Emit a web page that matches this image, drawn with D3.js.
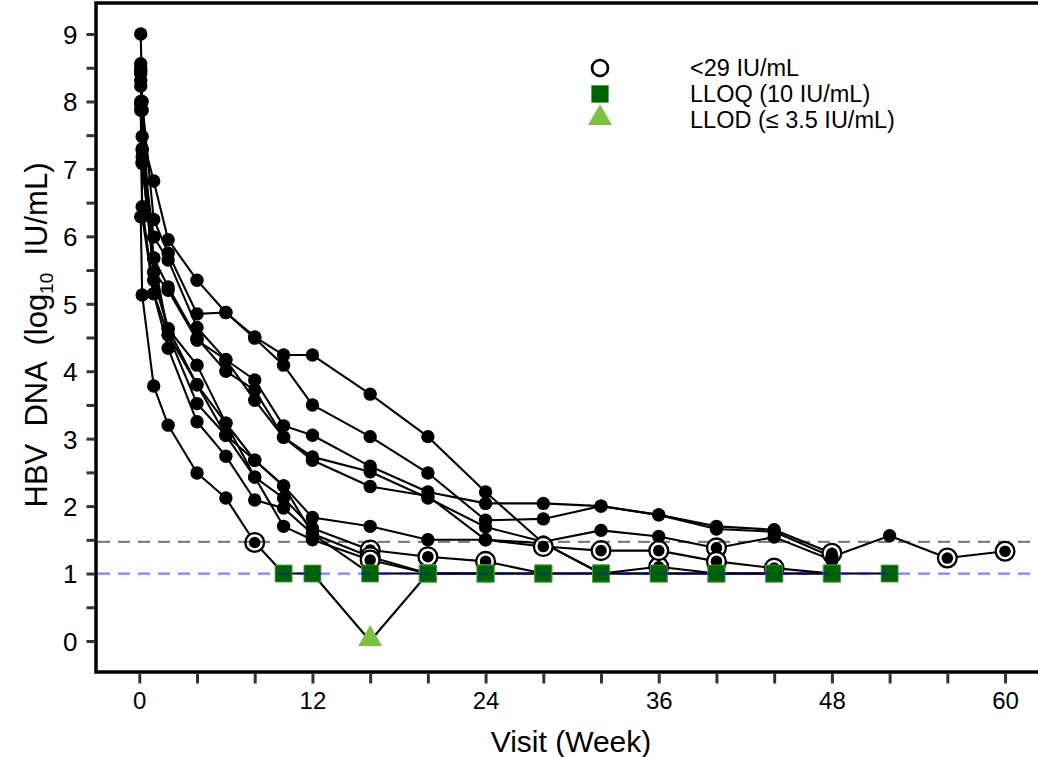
<!DOCTYPE html>
<html>
<head>
<meta charset="utf-8">
<script src="https://cdn.jsdelivr.net/npm/d3@7"></script>
<style>
  body { margin: 0; background: #fff; }
  svg { display: block; }
  text { font-family: "Liberation Sans", Arial, sans-serif; fill: #000; }
</style>
</head>
<body>
<svg id="chart" width="1038" height="757"></svg>
<script>
// Visit schedule (weeks) shared by every participant
const visitWeeks = [0.1, 0.2, 1, 2, 4, 6, 8, 10, 12, 16, 20, 24, 28, 32, 36, 40, 44, 48, 52, 56, 60];

// HBV DNA (log10 IU/mL) per participant, aligned with visitWeeks (null = no visit)
// Flags: D = quantified, C = <29 IU/mL, Q = LLOQ (10 IU/mL), T = LLOD (<=3.5 IU/mL), . = none
const pt01 = [8.56, 7.48, 6.82, 5.95, 5.35, 4.87, 4.51, 4.24, 4.24, 3.66, 3.03, 2.21, 1.45, 1, 1, 1, 1, 1, null, null, null];
const pt01Flag = "DDDDDDDDDDDDDQQQQQ...";
const pt02 = [9.0, 8.0, 6.25, 5.75, 4.85, 4.87, 4.49, 4.09, 3.5, 3.03, 2.49, 1.79, 1.81, 2.0, 1.87, 1.70, 1.65, 1.30, null, null, null];
const pt02Flag = "DDDDDDDDDDDDDDDDDC...";
const pt03 = [8.49, 7.28, 5.99, 5.65, 4.65, 4.17, 3.87, 3.19, 3.05, 2.59, 2.21, 2.04, 2.04, 2.0, 1.87, 1.66, 1.62, 1.25, 1.56, 1.23, 1.33];
const pt03Flag = "DDDDDDDDDDDDDDDDDDDCC";
const pt04 = [8.41, 7.18, 5.68, 5.25, 4.49, 4.0, 3.72, 3.02, 2.73, 2.51, 2.12, 1.69, 1.47, 1.64, 1.55, 1.38, 1.54, 1.2, null, null, null];
const pt04Flag = "DDDDDDDDDDDDDDDCDD...";
const pt05 = [8.31, 7.08, 5.47, 5.2, 4.46, 4.17, 3.57, 3.02, 2.68, 2.29, 2.15, 1.50, 1.45, 1, 1.1, 1, 1, null, null, null, null];
const pt05Flag = "DDDDDDDDDDDDDQCQQ....";
const pt06 = [8.23, 7.87, 5.35, 4.63, 3.80, 3.23, 2.68, 2.30, 1.83, 1.70, 1.50, 1.50, 1.40, 1.34, 1.34, 1.18, 1.08, 1, null, null, null];
const pt06Flag = "DDDDDDDDDDDDCCCCCQ...";
const pt07 = [8.0, 6.44, 5.15, 4.54, 3.52, 3.05, 2.43, 2.12, 1.67, 1.35, 1.25, 1.18, 1, 1, null, null, null, null, null, null, null];
const pt07Flag = "DDDDDDDDDCCCQQ.......";
const pt08 = [7.87, 6.29, 5.15, 4.34, 3.25, 2.74, 2.09, 1.97, 1.59, 1.25, 1, 1, 1, null, null, null, null, null, null, null, null];
const pt08Flag = "DDDDDDDDDCQQQ........";
const pt09 = [7.95, 7.1, 5.47, 4.63, 4.09, 3.23, 2.43, 1.70, 1.50, 1.2, 1, 1, null, null, null, null, null, null, null, null, null];
const pt09Flag = "DDDDDDDDDCQQ.........";
const pt10 = [8.45, 7.3, 5.68, 4.54, 3.8, 3.05, 2.68, 2.30, 1.59, 1, 1, null, null, null, null, null, null, null, null, null, null];
const pt10Flag = "DDDDDDDDDQQ..........";
const pt11 = [6.29, 5.13, 3.78, 3.2, 2.49, 2.12, 1.46, 1, 1, 0, 1, 1, 1, 1, 1, 1, 1, 1, 1, null, null];
const pt11Flag = "DDDDDDCQQTQQQQQQQQQ..";

// Reference thresholds (log10 IU/mL): 29 IU/mL and 10 IU/mL
const refValues = [1.47, 1.0];
const refColors = ["#000000", "#0000ff"];

// Axis ticks
const xTicks = d3.range(0, 61, 4);
const xLabels = [0, 12, 24, 36, 48, 60];
const yTicks = d3.range(0, 9.01, 0.5);
const yLabels = [0, 1, 2, 3, 4, 5, 6, 7, 8, 9];

// Legend entries
const legendKeys = ["C", "Q", "T"];
const legendText = ["<29 IU/mL", "LLOQ (10 IU/mL)", "LLOD (\u2264 3.5 IU/mL)"];

const subjects = [
  [pt01, pt01Flag], [pt02, pt02Flag], [pt03, pt03Flag], [pt04, pt04Flag],
  [pt05, pt05Flag], [pt06, pt06Flag], [pt07, pt07Flag], [pt08, pt08Flag],
  [pt09, pt09Flag], [pt10, pt10Flag], [pt11, pt11Flag]
].map(([vals, flags]) => visitWeeks
  .map((w, i) => ({ week: w, value: vals[i], flag: flags[i] }))
  .filter(d => d.value !== null && d.flag !== "."));

const svg = d3.select("#chart");
const plotLeft = 96, plotTop = 3, plotBottom = 672, plotRight = 1044;

const x = d3.scaleLinear().domain([-3, 62.7]).range([plotLeft, plotRight]);
const y = d3.scaleLinear().domain([-0.46, 9.46]).range([plotBottom, plotTop]);

// Frame
svg.append("path")
  .attr("d", `M${plotRight},${plotTop}H${plotLeft}V${plotBottom}H${plotRight}`)
  .attr("fill", "none").attr("stroke", "#000").attr("stroke-width", 3.5);

// X axis
const xAxis = d3.axisBottom(x).tickValues(xTicks).tickSize(10)
  .tickFormat(d => xLabels.includes(d) ? d : "");
const gx = svg.append("g").attr("transform", `translate(0,${plotBottom + 1.5})`).call(xAxis);
gx.select(".domain").remove();
gx.selectAll(".tick line").attr("stroke", "#333").attr("stroke-width", 3);
gx.selectAll(".tick text").attr("font-size", 24).attr("y", 18).attr("dy", "0.71em")
  .attr("font-family", "Liberation Sans, Arial, sans-serif").attr("fill", "#000");

// Y axis
const yAxis = d3.axisLeft(y).tickValues(yTicks).tickSize(8)
  .tickFormat(d => yLabels.includes(d) ? d : "");
const gy = svg.append("g").attr("transform", `translate(${plotLeft - 1.5},0)`).call(yAxis);
gy.select(".domain").remove();
gy.selectAll(".tick line").attr("stroke", "#333").attr("stroke-width", 3);
gy.selectAll(".tick text").attr("font-size", 26).attr("x", -17).attr("dy", "0.36em")
  .attr("font-family", "Liberation Sans, Arial, sans-serif").attr("fill", "#000");

// Axis titles
svg.append("text")
  .attr("x", 571).attr("y", 752).attr("text-anchor", "middle")
  .attr("font-size", 30).text("Visit (Week)");

const yTitle = svg.append("text")
  .attr("transform", "translate(47,335) rotate(-90)")
  .attr("text-anchor", "middle").attr("font-size", 31)
  .attr("xml:space", "preserve");
yTitle.append("tspan").text("HBV  DNA  (log");
yTitle.append("tspan").attr("font-size", 19).attr("dy", 6).text("10");
yTitle.append("tspan").attr("dy", -6).text("  IU/mL)");

// Participant trajectories
const plot = svg.append("g");
const line = d3.line().x(d => x(d.week)).y(d => y(d.value));
plot.selectAll("path.traj").data(subjects).join("path")
  .attr("class", "traj")
  .attr("d", line).attr("fill", "none")
  .attr("stroke", "#000").attr("stroke-width", 2.1).attr("stroke-linejoin", "round");

const sqSym = d3.symbol().type(d3.symbolSquare).size(290);
const triSym = d3.symbol().type(d3.symbolTriangle).size(250);

function drawMarker(g, flag, cx, cy, isLegend) {
  if (flag === "D") {
    g.append("circle").attr("cx", cx).attr("cy", cy).attr("r", 6.7).attr("fill", "#000");
  } else if (flag === "C") {
    g.append("circle").attr("cx", cx).attr("cy", cy).attr("r", isLegend ? 8 : 9.4)
      .attr("fill", "#fff").attr("stroke", "#000").attr("stroke-width", isLegend ? 2.6 : 2.3);
    if (!isLegend) g.append("circle").attr("cx", cx).attr("cy", cy).attr("r", 5.8).attr("fill", "#000");
  } else if (flag === "Q") {
    g.append("path").attr("d", sqSym()).attr("transform", `translate(${cx},${cy})`)
      .attr("fill", "#006400").attr("stroke", "#5e9c5e").attr("stroke-width", 0.8);
  } else if (flag === "T") {
    g.append("path").attr("d", triSym()).attr("transform", `translate(${cx},${cy - 2})`)
      .attr("fill", "#7cc144");
  }
}

const marks = svg.append("g");
subjects.forEach(s => s.forEach(d => drawMarker(marks, d.flag, x(d.week), y(d.value), false)));

// Threshold reference lines
refValues.forEach((v, i) => {
  svg.append("line")
    .attr("x1", plotLeft + 2).attr("x2", plotRight).attr("y1", y(v)).attr("y2", y(v))
    .attr("stroke", refColors[i]).attr("stroke-opacity", 0.5)
    .attr("stroke-width", 2.2).attr("stroke-dasharray", "12,8");
});

// Legend
const legendG = svg.append("g");
legendKeys.forEach((k, i) => {
  const ly = 68 + i * 26;
  drawMarker(legendG, k, 600, ly, true);
  legendG.append("text").attr("x", 690).attr("y", ly).attr("dy", "0.36em")
    .attr("font-size", 23.5).text(legendText[i]);
});
</script>
</body>
</html>
